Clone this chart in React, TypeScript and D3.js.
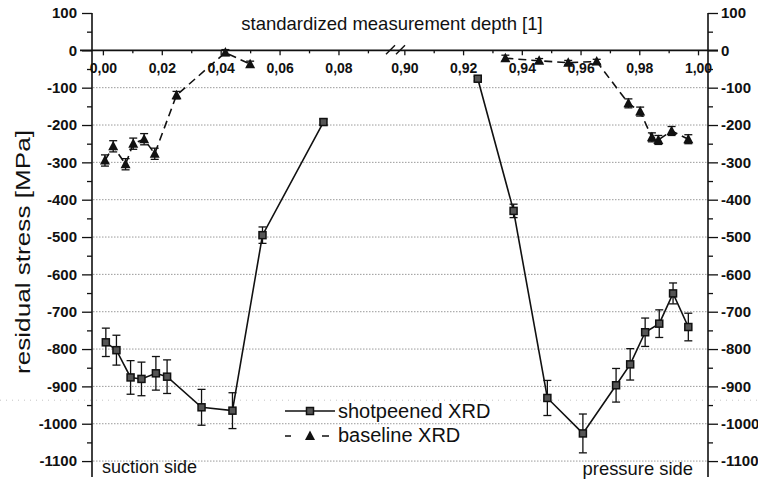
import React, { useEffect, useRef } from "react";
import * as d3 from "d3";

// shotpeened XRD (squares, solid) - suction side segment and pressure side segment
const shotLeftX = [0.001, 0.0046, 0.0094, 0.0131, 0.018, 0.0218, 0.0335, 0.044, 0.0542, 0.0749];
const shotLeftY = [-782, -803, -876, -880, -865, -874, -956, -965, -495, -192];
const shotLeftErr = [38, 40, 45, 45, 45, 45, 48, 48, 22, 8];
const shotRightX = [0.925, 0.9372, 0.9487, 0.9608, 0.9721, 0.9769, 0.982, 0.9868, 0.9915, 0.9967];
const shotRightY = [-76, -430, -931, -1026, -897, -841, -755, -732, -651, -741];
const shotRightErr = [6, 18, 47, 52, 45, 42, 38, 37, 28, 37];

// baseline XRD (triangles, dashed)
const baseLeftX = [0.0007, 0.0035, 0.0077, 0.0103, 0.014, 0.0176, 0.025, 0.0416, 0.05];
const baseLeftY = [-295, -257, -305, -250, -238, -277, -120, -6, -37];
const baseLeftErr = [15, 15, 15, 15, 15, 15, 10, 8, 8];
const baseRightX = [0.9344, 0.9459, 0.9558, 0.9655, 0.9763, 0.9803, 0.9843, 0.9865, 0.991, 0.9967];
const baseRightY = [-21, -28, -33, -30, -142, -164, -233, -240, -216, -238];
const baseRightErr = [8, 6, 6, 6, 12, 12, 12, 12, 12, 12];

const leftTicks = [0, 0.02, 0.04, 0.06, 0.08];
const rightTicks = [0.9, 0.92, 0.94, 0.96, 0.98, 1.0];
const leftMinor = [0.01, 0.03, 0.05, 0.07, 0.09];
const rightMinor = [0.91, 0.93, 0.95, 0.97, 0.99];
const yTicks = [100, 0, -100, -200, -300, -400, -500, -600, -700, -800, -900, -1000, -1100];
const yMinor = [50, -50, -150, -250, -350, -450, -550, -650, -750, -850, -950, -1050];

const font = "'Liberation Sans', Arial, sans-serif";

const App = () => {
  const ref = useRef<SVGSVGElement>(null);

  useEffect(() => {
    const svg = d3.select(ref.current);
    svg.selectAll("*").remove();

    const x = d3
      .scaleLinear()
      .domain([-0.0037, 0.0975, 0.8975, 1.0034])
      .range([92, 390, 397, 708]);
    const y = d3.scaleLinear().domain([-1140, 100]).range([476, 13]);

    // grid lines
    svg
      .append("g")
      .selectAll("line")
      .data(yTicks.filter((d) => d < 0))
      .join("line")
      .attr("x1", 93)
      .attr("x2", 707)
      .attr("y1", (d) => y(d))
      .attr("y2", (d) => y(d))
      .attr("stroke", "#9a9a9a")
      .attr("stroke-dasharray", "1.5,1.5");

    // faint scan line
    svg
      .append("line")
      .attr("x1", 0)
      .attr("x2", 758)
      .attr("y1", y(-937))
      .attr("y2", y(-937))
      .attr("stroke", "#c4c4c4")
      .attr("stroke-dasharray", "1,5");

    const fmtY = (d) => String(d);
    const fmtX = (d) => d3.format(".2f")(d).replace(".", ",");

    const styleAxis = (g) => {
      g.select(".domain").remove();
      g.selectAll("line").attr("stroke", "#111").attr("stroke-width", 1.3);
      g.selectAll("text")
        .attr("font-family", font)
        .attr("font-weight", "bold")
        .attr("fill", "#111");
    };

    // left axis
    svg
      .append("g")
      .attr("transform", "translate(92,0)")
      .call(d3.axisLeft(y).tickValues(yTicks).tickSize(10).tickPadding(5).tickFormat(fmtY))
      .attr("font-size", 15)
      .call(styleAxis);
    svg
      .append("g")
      .attr("transform", "translate(92,0)")
      .call(d3.axisLeft(y).tickValues(yMinor).tickSize(5).tickFormat(() => ""))
      .call(styleAxis);

    // right axis
    svg
      .append("g")
      .attr("transform", "translate(708,0)")
      .call(d3.axisRight(y).tickValues(yTicks).tickSize(10).tickPadding(3).tickFormat(fmtY))
      .attr("font-size", 15)
      .call(styleAxis);
    svg
      .append("g")
      .attr("transform", "translate(708,0)")
      .call(d3.axisRight(y).tickValues(yMinor).tickSize(5).tickFormat(() => ""))
      .call(styleAxis);

    // vertical axis lines
    [92, 708].forEach((xx) => {
      svg
        .append("line")
        .attr("x1", xx)
        .attr("x2", xx)
        .attr("y1", y(100))
        .attr("y2", 477)
        .attr("stroke", "#111")
        .attr("stroke-width", 1.6);
    });

    // top x axis at y = 0
    const y0 = y(0);
    svg
      .append("g")
      .attr("transform", `translate(0,${y0})`)
      .call(
        d3
          .axisBottom(x)
          .tickValues([...leftTicks, ...rightTicks])
          .tickSize(5)
          .tickPadding(8)
          .tickFormat(fmtX)
      )
      .attr("font-size", 14)
      .call(styleAxis);
    svg
      .append("g")
      .attr("transform", `translate(0,${y0})`)
      .call(d3.axisBottom(x).tickValues([...leftMinor, ...rightMinor]).tickSize(3).tickFormat(() => ""))
      .call(styleAxis);
    svg
      .append("line")
      .attr("x1", 80)
      .attr("x2", 718)
      .attr("y1", y0)
      .attr("y2", y0)
      .attr("stroke", "#111")
      .attr("stroke-width", 1.6);

    // axis break marks
    [391, 401].forEach((bx) => {
      svg
        .append("line")
        .attr("x1", bx - 5)
        .attr("x2", bx + 4)
        .attr("y1", y0 + 4)
        .attr("y2", y0 - 5)
        .attr("stroke", "#111")
        .attr("stroke-width", 1.5);
    });

    const drawMarker = (g, cx, cy, marker) => {
      if (marker === "square") {
        g.append("rect")
          .attr("x", cx - 3.5)
          .attr("y", cy - 3.5)
          .attr("width", 7)
          .attr("height", 7)
          .attr("fill", "#555")
          .attr("stroke", "#111")
          .attr("stroke-width", 1.5);
      } else {
        g.append("path")
          .attr("d", `M${cx},${cy - 5.5}L${cx + 5},${cy + 4}L${cx - 5},${cy + 4}Z`)
          .attr("fill", "#111");
      }
    };

    // series
    const drawSeries = (xs, ys, errs, dashed, marker) => {
      const pts = xs.map((d, i) => ({ x: d, y: ys[i], e: errs[i] }));
      const line = d3
        .line()
        .x((d) => x(d.x))
        .y((d) => y(d.y));
      svg
        .append("path")
        .datum(pts)
        .attr("d", line)
        .attr("fill", "none")
        .attr("stroke", "#111")
        .attr("stroke-width", 1.6)
        .attr("stroke-dasharray", dashed ? "8,5" : null);

      const eb = svg.append("g").attr("stroke", "#111").attr("stroke-width", 1.3);
      pts.forEach((d) => {
        const cx = x(d.x);
        eb.append("line").attr("x1", cx).attr("x2", cx).attr("y1", y(d.y - d.e)).attr("y2", y(d.y + d.e));
        eb.append("line").attr("x1", cx - 4).attr("x2", cx + 4).attr("y1", y(d.y - d.e)).attr("y2", y(d.y - d.e));
        eb.append("line").attr("x1", cx - 4).attr("x2", cx + 4).attr("y1", y(d.y + d.e)).attr("y2", y(d.y + d.e));
      });

      const m = svg.append("g");
      pts.forEach((d) => drawMarker(m, x(d.x), y(d.y), marker));
    };

    drawSeries(baseLeftX, baseLeftY, baseLeftErr, true, "tri");
    drawSeries(baseRightX, baseRightY, baseRightErr, true, "tri");
    drawSeries(shotLeftX, shotLeftY, shotLeftErr, false, "square");
    drawSeries(shotRightX, shotRightY, shotRightErr, false, "square");

    // legend
    const lg = svg.append("g");
    lg.append("line").attr("x1", 285).attr("x2", 335).attr("y1", 411).attr("y2", 411).attr("stroke", "#111").attr("stroke-width", 1.6);
    drawMarker(lg, 310, 411, "square");
    lg.append("line").attr("x1", 285).attr("x2", 329).attr("y1", 436).attr("y2", 436).attr("stroke", "#111").attr("stroke-width", 1.6).attr("stroke-dasharray", "6,31,7");
    drawMarker(lg, 310, 436, "tri");
    lg.append("text").attr("x", 338).attr("y", 418).text("shotpeened XRD");
    lg.append("text").attr("x", 338).attr("y", 442).text("baseline XRD");
    lg.selectAll("text").attr("font-family", font).attr("font-size", 20).attr("fill", "#111");

    // titles
    svg
      .append("text")
      .attr("x", 392)
      .attr("y", 30)
      .attr("text-anchor", "middle")
      .attr("font-family", font)
      .attr("font-size", 18.5)
      .attr("fill", "#111")
      .text("standardized measurement depth [1]");
    svg
      .append("text")
      .attr("transform", "translate(30,252) rotate(-90)")
      .attr("text-anchor", "middle")
      .attr("font-family", font)
      .attr("font-size", 21)
      .attr("textLength", 244)
      .attr("lengthAdjust", "spacingAndGlyphs")
      .attr("fill", "#111")
      .text("residual stress [MPa]");
    svg
      .append("text")
      .attr("x", 102)
      .attr("y", 473)
      .attr("font-family", font)
      .attr("font-size", 18)
      .attr("fill", "#111")
      .text("suction side");
    svg
      .append("text")
      .attr("x", 693)
      .attr("y", 475)
      .attr("text-anchor", "end")
      .attr("font-family", font)
      .attr("font-size", 18.4)
      .attr("fill", "#111")
      .text("pressure side");
  }, []);

  return (
    <svg
      ref={ref}
      width={758}
      height={483}
      style={{ position: "absolute", left: 0, top: 0, background: "#fff" }}
    ></svg>
  );
};

export default App;
